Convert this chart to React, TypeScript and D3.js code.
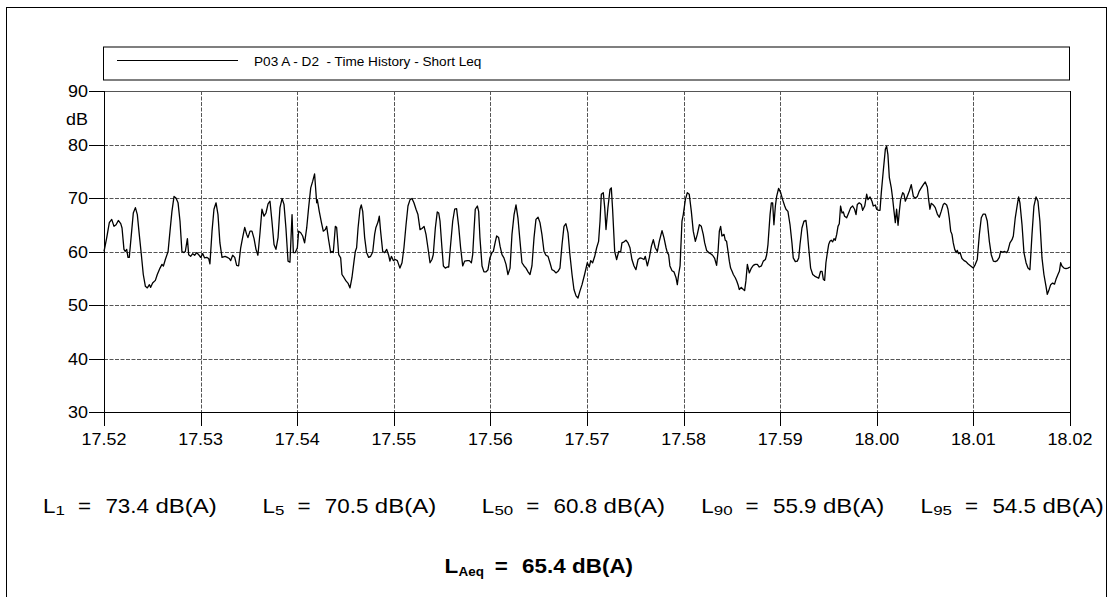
import React from "react";
import * as d3 from "d3";

// ---- data (seconds after 17:52:00, Short Leq in dB) ----
const seconds = [
  0, 1.7, 3.3, 4.8, 6.2, 7.5, 8.9, 10.4, 11.2, 12.4, 13.2, 14.1, 14.9, 15.7, 17.0, 18.2, 19.5, 20.7, 21.9, 23.2,
  24.4, 25.7, 26.9, 28.2, 29.0, 30.2, 31.9, 33.1, 34.8, 36.0, 36.9, 38.1, 39.8, 41.0, 42.2, 43.5, 44.7, 46.0, 47.2, 48.4,
  49.7, 50.5, 51.8, 52.6, 53.8, 55.1, 56.3, 57.6, 58.8, 60.0, 61.3, 62.5, 63.8, 65.0, 65.8, 67.1, 68.3, 69.6, 70.8, 72.0,
  73.3, 75.2, 76.6, 77.8, 78.7, 79.9, 81.2, 82.4, 83.6, 84.9, 86.1, 87.4, 88.6, 89.4, 90.7, 91.9, 93.2, 94.4, 95.6, 96.9,
  98.1, 99.4, 100.6, 101.9, 103.1, 104.3, 105.6, 106.8, 108.1, 109.3, 110.6, 111.8, 113.0, 114.3, 115.5, 116.8, 117.6, 118.8, 120.1, 120.9,
  122.2, 123.4, 124.6, 125.9, 127.1, 128.4, 129.6, 130.8, 132.1, 132.5, 133.7, 135.0, 136.2, 137.5, 138.3, 139.5, 140.8, 141.6, 142.4, 143.7,
  144.5, 145.8, 147.0, 147.8, 149.1, 150.3, 151.5, 152.8, 154.0, 155.3, 156.1, 156.9, 157.8, 159.0, 159.8, 160.7, 161.9, 163.1, 164.4, 165.6,
  166.9, 168.1, 168.9, 170.2, 171.0, 171.8, 173.1, 174.3, 175.6, 176.8, 177.6, 178.5, 179.7, 180.9, 182.2, 183.0, 183.8, 185.1, 186.3, 187.6,
  188.8, 190.1, 191.3, 192.5, 193.8, 195.0, 196.3, 197.5, 198.8, 200.0, 201.2, 202.5, 203.7, 204.5, 205.8, 207.0, 207.9, 208.7, 209.9, 210.8,
  212.0, 213.2, 214.1, 215.3, 216.6, 217.8, 219.0, 220.3, 221.5, 222.8, 224.0, 225.7, 226.9, 228.2, 229.0, 229.8, 230.6, 231.9, 232.7, 233.5,
  234.8, 236.0, 237.3, 238.5, 239.7, 241.0, 241.8, 243.1, 243.9, 245.1, 246.0, 247.2, 248.4, 249.7, 250.9, 252.2, 253.4, 254.7, 255.9, 257.1,
  258.4, 259.6, 260.9, 262.1, 263.4, 264.6, 265.8, 267.1, 268.3, 269.6, 270.8, 272.0, 273.3, 274.5, 275.8, 277.0, 278.2, 279.5, 280.7, 282.0,
  283.2, 284.5, 285.7, 286.9, 288.2, 289.4, 290.7, 291.9, 293.2, 294.4, 295.6, 296.9, 298.5, 300.2, 301.4, 302.3, 303.5, 304.8, 306.0, 307.2,
  308.1, 308.9, 310.1, 311.0, 311.8, 313.0, 314.3, 315.1, 315.9, 317.2, 318.4, 319.7, 320.9, 321.7, 323.0, 324.2, 325.5, 326.7, 327.9, 329.2,
  330.4, 331.7, 332.9, 334.2, 335.4, 336.2, 337.5, 338.7, 340.0, 341.2, 342.4, 343.7, 344.9, 346.6, 347.8, 349.1, 349.9, 350.7, 351.5, 352.8,
  354.0, 355.3, 356.1, 356.9, 357.8, 359.0, 359.8, 361.1, 362.3, 363.5, 364.8, 366.0, 367.3, 368.5, 369.8, 371.0, 372.2, 373.1, 374.3, 375.6,
  376.8, 378.0, 379.3, 380.5, 381.4, 382.2, 383.0, 383.8, 385.1, 385.9, 386.7, 387.6, 388.4, 389.2, 390.1, 390.9, 392.1, 393.0, 393.8, 394.6,
  395.8, 397.1, 397.9, 398.7, 399.6, 400.8, 402.1, 403.3, 404.5, 405.8, 407.0, 408.3, 409.5, 410.8, 411.6, 412.4, 413.7, 414.5, 415.3, 416.1,
  417.0, 417.8, 419.0, 420.3, 421.5, 422.8, 423.6, 424.8, 426.1, 427.3, 428.1, 429.4, 430.6, 431.5, 432.3, 433.5, 434.8, 436.0, 436.8, 437.7,
  438.9, 440.2, 441.4, 442.6, 443.9, 445.1, 446.0, 446.8, 447.6, 448.4, 449.3, 450.1, 450.9, 451.7, 452.6, 453.4, 454.2, 455.1, 455.9, 456.7,
  457.5, 458.4, 459.2, 460.0, 461.3, 462.5, 463.8, 465.0, 466.2, 467.1, 467.9, 469.1, 470.4, 471.2, 472.5, 473.7, 474.5, 475.8, 477.0, 477.8,
  479.1, 479.9, 481.1, 482.0, 482.8, 484.0, 485.3, 486.1, 486.9, 487.8, 489.0, 489.8, 490.7, 491.5, 492.3, 493.2, 494.0, 494.8, 496.1, 496.9,
  497.7, 498.9, 500.2, 501.4, 502.7, 503.9, 505.2, 506.4, 507.6, 508.9, 510.1, 511.4, 512.2, 513.0, 513.8, 515.1, 516.3, 517.6, 518.8, 520.0,
  521.3, 522.1, 523.4, 524.2, 525.0, 525.9, 526.7, 527.5, 528.4, 529.2, 530.0, 530.8, 531.7, 532.9, 534.2, 535.4, 536.6, 537.9, 539.1, 539.9,
  541.2, 542.4, 543.7, 544.9, 546.1, 547.4, 548.6, 549.9, 551.1, 552.4, 553.6, 554.8, 556.1, 556.9, 558.2, 559.4, 560.6, 561.5, 562.7, 564.0,
  564.8, 566.0, 567.3, 568.1, 568.9, 570.2, 571.4, 572.7, 573.9, 575.1, 576.4, 577.6, 578.9, 580.1, 581.3, 582.6, 583.8, 585.1, 585.9, 586.7,
  588.0, 589.2, 590.4, 591.3, 592.5, 593.4, 594.2, 595.0, 596.3, 597.5, 598.7, 600.0,
];

const levels = [
  60.0, 62.6, 65.4, 66.0, 64.7, 65.0, 65.8, 65.2, 64.4, 60.4, 60.0, 60.4, 58.9, 58.9, 63.2, 67.2, 68.2, 66.9, 63.2, 59.4,
  55.7, 53.5, 53.2, 53.8, 53.3, 54.1, 54.6, 55.7, 56.9, 57.6, 57.3, 58.5, 60.0, 63.8, 67.5, 70.3, 70.0, 69.1, 65.7, 60.0,
  59.8, 60.0, 62.4, 59.4, 59.1, 59.6, 59.3, 59.8, 59.4, 58.9, 59.6, 58.8, 58.9, 58.7, 57.7, 63.8, 67.9, 69.1, 66.9, 61.6,
  58.9, 59.1, 58.9, 58.7, 58.3, 59.3, 58.9, 57.4, 57.3, 60.7, 62.6, 64.5, 63.2, 62.6, 63.8, 63.8, 62.4, 60.4, 59.3, 63.5,
  67.9, 66.6, 67.2, 68.9, 69.4, 65.7, 61.3, 60.4, 62.6, 68.2, 69.9, 68.8, 64.4, 58.2, 58.0, 66.9, 59.8, 59.8, 60.7, 63.8,
  63.5, 62.9, 61.6, 64.4, 68.2, 71.9, 73.1, 74.5, 69.1, 69.7, 67.5, 65.5, 63.8, 64.1, 64.7, 62.2, 59.8, 60.0, 59.8, 64.7,
  64.5, 59.4, 58.8, 55.7, 55.1, 54.5, 54.1, 53.2, 55.1, 58.2, 60.0, 60.7, 64.4, 67.9, 68.7, 67.5, 62.6, 59.8, 58.9, 59.1,
  59.9, 63.2, 64.5, 65.5, 66.6, 63.8, 60.0, 59.8, 60.4, 59.3, 58.2, 59.1, 58.3, 58.5, 58.3, 57.6, 56.9, 57.9, 60.7, 65.0,
  68.5, 69.7, 69.9, 69.1, 67.9, 66.9, 64.1, 64.3, 64.7, 63.2, 60.7, 57.9, 58.5, 59.4, 64.4, 67.4, 67.2, 65.7, 60.7, 57.3,
  56.9, 57.1, 57.1, 61.3, 65.7, 67.9, 68.0, 64.7, 60.7, 57.3, 58.2, 58.3, 58.3, 57.9, 59.4, 63.8, 67.9, 68.5, 67.5, 62.6,
  57.3, 56.2, 56.2, 56.6, 58.8, 59.8, 60.0, 61.9, 62.9, 62.6, 61.0, 59.4, 58.8, 57.6, 55.7, 56.9, 63.2, 66.9, 68.7, 66.3,
  61.9, 57.9, 57.3, 56.9, 56.2, 55.7, 57.3, 62.6, 66.0, 66.4, 65.4, 63.2, 60.0, 59.3, 59.1, 57.9, 56.6, 56.4, 56.0, 56.3,
  56.9, 61.3, 64.7, 65.2, 63.5, 59.4, 55.7, 52.9, 51.7, 51.3, 52.6, 53.8, 55.7, 57.9, 57.1, 58.3, 57.9, 59.1, 60.7, 61.9,
  65.7, 70.7, 71.0, 68.2, 64.1, 68.2, 71.6, 71.9, 67.9, 60.0, 58.5, 60.0, 59.9, 61.6, 61.8, 62.1, 61.6, 60.7, 58.5, 57.3,
  56.6, 58.5, 58.8, 58.7, 58.5, 59.1, 57.3, 58.8, 61.0, 62.2, 60.7, 60.0, 61.9, 63.9, 62.6, 60.7, 59.8, 59.4, 57.3, 56.4,
  56.2, 55.1, 53.8, 55.7, 57.3, 65.7, 66.9, 69.7, 71.0, 70.7, 67.5, 63.8, 61.9, 63.2, 65.0, 64.7, 63.2, 61.6, 60.2, 59.8,
  59.6, 59.3, 58.7, 57.4, 60.0, 63.8, 64.7, 62.9, 63.2, 62.1, 61.9, 60.0, 58.2, 56.9, 56.3, 55.7, 55.1, 54.5, 53.8, 52.9,
  53.3, 52.9, 52.7, 54.5, 57.6, 56.0, 56.9, 57.4, 57.6, 57.6, 57.1, 57.3, 58.2, 58.5, 59.4, 61.3, 66.9, 69.1, 69.1, 65.0,
  68.5, 70.3, 71.8, 71.0, 69.7, 68.5, 67.9, 67.5, 65.0, 61.6, 58.8, 58.1, 58.2, 58.8, 61.3, 64.4, 65.7, 65.8, 63.8, 60.7,
  56.9, 55.7, 55.4, 55.2, 55.0, 56.3, 56.3, 54.8, 54.6, 57.9, 59.8, 61.3, 61.9, 62.1, 61.8, 62.4, 62.1, 63.2, 64.7, 65.2,
  68.5, 67.2, 67.4, 66.6, 66.3, 67.2, 68.2, 68.5, 67.9, 66.9, 68.8, 69.1, 68.8, 67.7, 68.5, 70.7, 69.7, 70.2, 69.4, 68.5,
  68.7, 67.9, 67.7, 67.7, 71.0, 75.0, 79.1, 79.7, 78.1, 73.8, 71.9, 70.0, 67.5, 65.4, 67.9, 64.9, 67.5, 69.7, 71.0, 70.7,
  69.4, 70.3, 71.3, 72.5, 70.3, 70.0, 70.3, 71.3, 71.9, 72.5, 73.0, 72.0, 69.7, 67.9, 69.0, 68.7, 68.2, 67.0, 66.4, 67.5,
  68.8, 69.0, 68.7, 67.9, 66.3, 63.8, 63.2, 61.6, 60.4, 59.8, 60.2, 59.6, 59.8, 58.7, 58.3, 58.1, 57.7, 57.4, 57.1, 56.9,
  57.6, 58.5, 63.2, 66.3, 67.0, 67.0, 65.7, 61.9, 59.4, 58.2, 58.1, 58.3, 58.9, 60.0, 59.9, 60.0, 59.8, 60.2, 61.6, 62.2,
  62.9, 66.3, 68.8, 70.2, 69.1, 65.0, 59.8, 57.9, 56.9, 56.6, 63.2, 68.5, 70.2, 69.4, 65.7, 58.8, 55.7, 53.5, 52.0, 52.6,
  53.8, 54.1, 53.9, 54.8, 55.7, 56.3, 57.9, 57.3, 56.9, 56.8, 56.9, 57.1,
];

const xTickLabels = ["17.52", "17.53", "17.54", "17.55", "17.56", "17.57", "17.58", "17.59", "18.00", "18.01", "18.02"];
const yTickValues = [30, 40, 50, 60, 70, 80, 90];
const yUnit = "dB";
const legendLabel = "P03 A - D2  - Time History - Short Leq";
const statSubscripts = ["1", "5", "50", "90", "95"];
const statValues = [73.4, 70.5, 60.8, 55.9, 54.5];
const unitLabel = "dB(A)";
const laeqSubscript = "Aeq";
const laeqValue = 65.4;

// ---- layout ----
const W = 1114;
const H = 597;
const PL = 104, PR = 1070, PT = 91, PB = 412;
const SX = 1.12; // horizontal stretch of the original lettering
const FONT = "Arial, 'Liberation Sans', Helvetica, sans-serif";

function T({ x, y, size, anchor = "start", weight = "normal", children, sx = SX }: any) {
  return (
    <text
      transform={`translate(${x},${y}) scale(${sx},1)`}
      fontSize={size}
      fontWeight={weight}
      textAnchor={anchor}
      fontFamily={FONT}
      fill="#000"
      style={{ whiteSpace: "pre" }}
    >
      {children}
    </text>
  );
}

function Stat({ x0, y0, sub, value, bold = false }: any) {
  // x0 = left edge of the "L" glyph
  const w = bold ? "bold" : "normal";
  const subX = x0 + (bold ? 12.5 : 11);
  const subW = bold ? 22 : sub.length * 9.4;
  const eqX = subX + subW + (bold ? 15.2 : 14);
  const valX = eqX + 27.4;
  const unitX = valX + 50;
  return (
    <g>
      <T x={x0 - 1.6} y={y0} size={20} weight={w}>L</T>
      <T x={subX} y={y0 + (bold ? 3 : 2)} size={bold ? 12 : 13} weight={w} sx={bold ? SX : 1.3}>{sub}</T>
      <T x={eqX - 1} y={y0} size={20} weight={w}>=</T>
      <T x={valX - 1} y={y0} size={20} weight={w}>{value.toFixed(1)}</T>
      <T x={unitX - 1} y={y0} size={20} weight={w} sx={bold ? SX : 1.2}>{unitLabel}</T>
    </g>
  );
}

export default function App() {
  const x = d3.scaleLinear().domain([0, 600]).range([PL, PR]);
  const y = d3.scaleLinear().domain([30, 90]).range([PB, PT]);
  const xTicks = d3.range(0, 601, 60);
  const pts = seconds.map((s, i) => [s, levels[i]] as [number, number]);
  const line = d3
    .line<[number, number]>()
    .x((d) => x(d[0]))
    .y((d) => y(d[1]));

  const gridColor = "#555";
  const dash = "4,1.5";

  return (
    <svg
      width={W}
      height={H}
      style={{ position: "absolute", left: 0, top: 0, background: "#fff" }}
    >
      <rect x={0} y={0} width={W} height={H} fill="#fff" />
      {/* outer frame */}
      <rect x={6.5} y={7.5} width={1100} height={620} fill="none" stroke="#000" strokeWidth={1} />

      {/* legend */}
      <rect x={103.5} y={47} width={966} height={33} fill="none" stroke="#000" strokeWidth={1} />
      <line x1={117} x2={238} y1={60.5} y2={60.5} stroke="#000" strokeWidth={1.2} />
      <T x={254} y={66} size={13.6} sx={1}>{legendLabel}</T>

      {/* horizontal grid */}
      {yTickValues
        .filter((v) => v !== 30)
        .map((v) => (
          <line key={"hg" + v} x1={PL} x2={PR} y1={Math.round(y(v)) + 0.5} y2={Math.round(y(v)) + 0.5}
            stroke={gridColor} strokeWidth={1} strokeDasharray={v === 90 ? undefined : dash} />
        ))}
      {/* vertical grid */}
      {xTicks.slice(1, -1).map((t) => (
        <line key={"vg" + t} x1={Math.round(x(t)) + 0.5} x2={Math.round(x(t)) + 0.5} y1={PT} y2={PB}
          stroke={gridColor} strokeWidth={1} strokeDasharray={dash} />
      ))}

      {/* axes */}
      <line x1={PL + 0.5} x2={PL + 0.5} y1={PT} y2={PB + 14} stroke="#000" strokeWidth={1} />
      <line x1={PR + 0.5} x2={PR + 0.5} y1={PT} y2={PB + 14} stroke="#000" strokeWidth={1} />
      <line x1={89} x2={PR} y1={PB + 0.5} y2={PB + 0.5} stroke="#000" strokeWidth={1} />

      {/* x ticks + labels */}
      {xTicks.map((t, i) => (
        <g key={"xt" + t}>
          <line x1={Math.round(x(t)) + 0.5} x2={Math.round(x(t)) + 0.5} y1={PB} y2={PB + 14} stroke="#000" strokeWidth={1} />
          <T x={x(t)} y={445} size={16} anchor="middle">{xTickLabels[i]}</T>
        </g>
      ))}

      {/* y ticks + labels */}
      {yTickValues.map((v) => (
        <g key={"yt" + v}>
          <line x1={89} x2={PL} y1={Math.round(y(v)) + 0.5} y2={Math.round(y(v)) + 0.5} stroke="#000" strokeWidth={1} />
          <T x={88} y={y(v) + 6} size={16} anchor="end">{String(v)}</T>
        </g>
      ))}
      <T x={88} y={125} size={16} anchor="end">{yUnit}</T>

      {/* data line */}
      <path d={line(pts) || ""} fill="none" stroke="#000" strokeWidth={1.3} strokeLinejoin="round" />

      {/* statistics */}
      {statSubscripts.map((s, i) => (
        <Stat key={"st" + s} x0={44.6 + i * 219.4} y0={513} sub={s} value={statValues[i]} />
      ))}
      <Stat x0={446} y0={573} sub={laeqSubscript} value={laeqValue} bold />
    </svg>
  );
}
